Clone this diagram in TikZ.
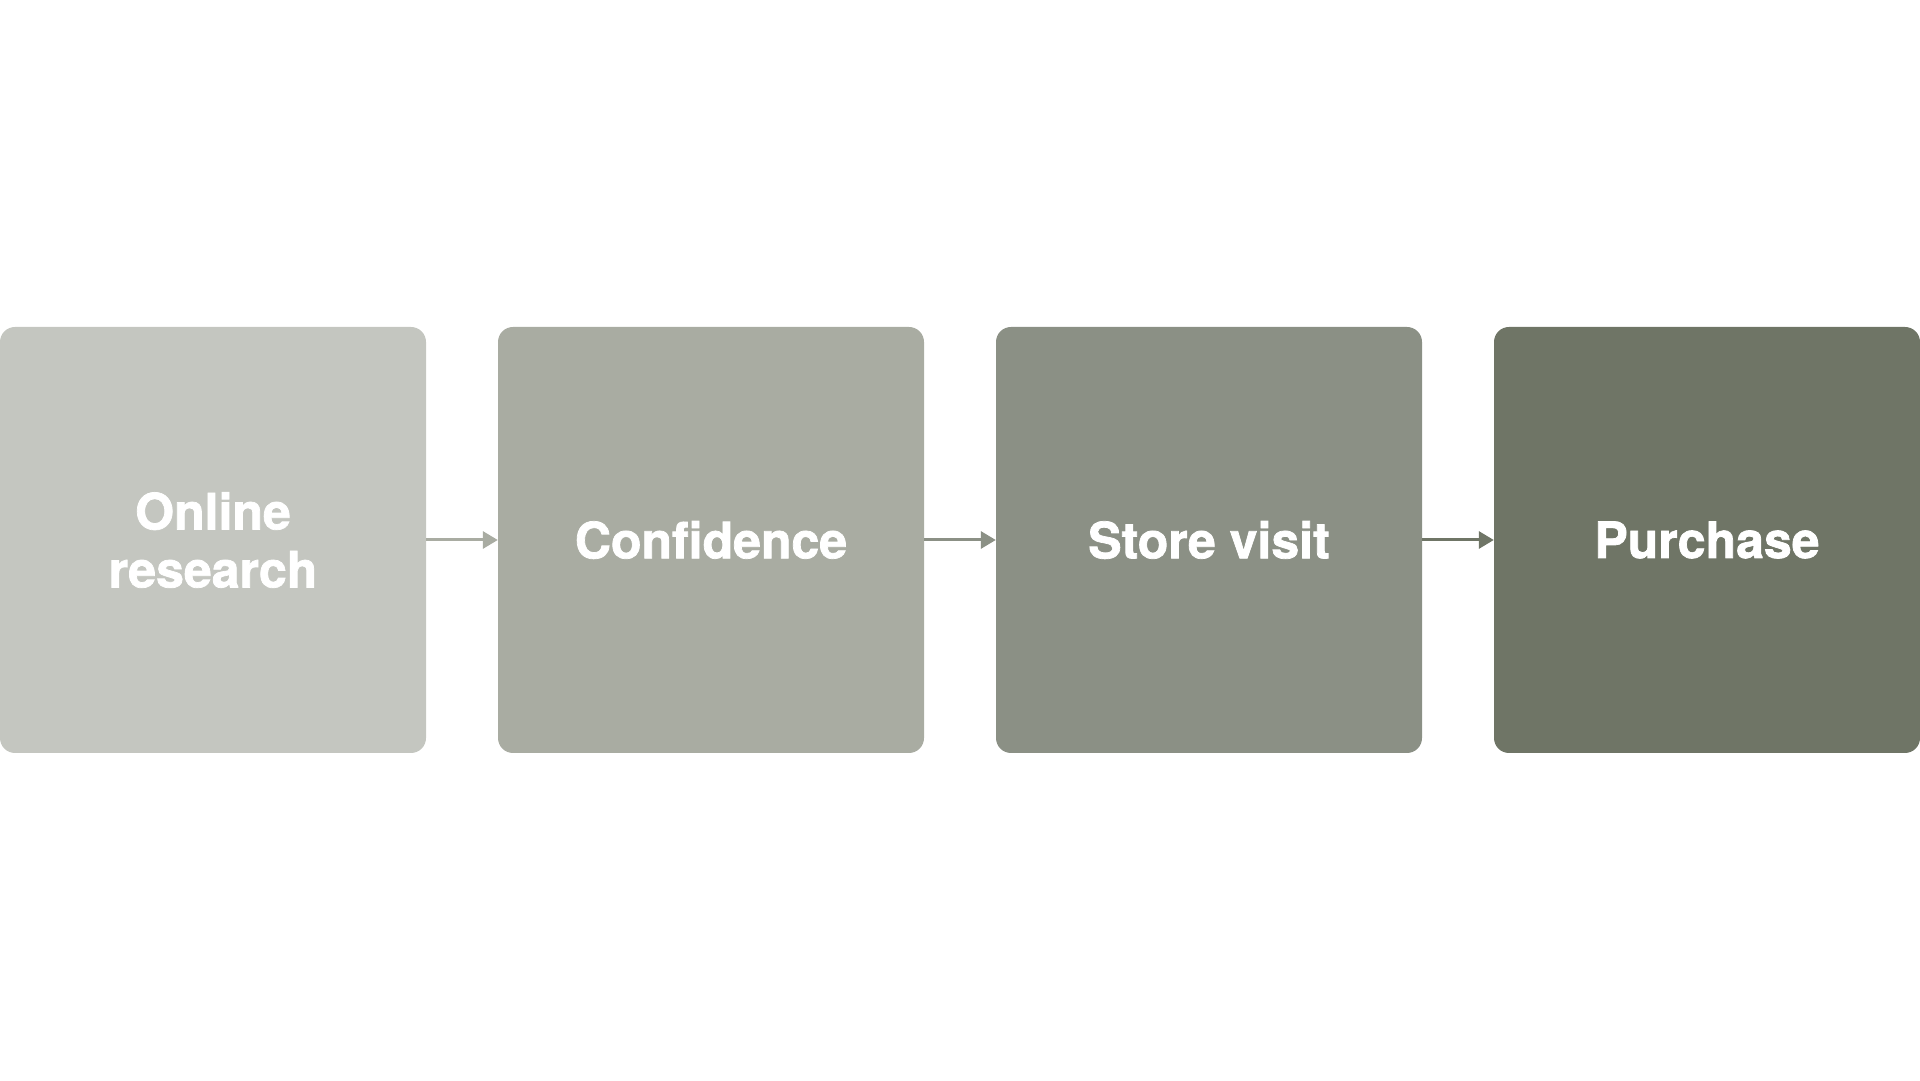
\documentclass[tikz,border=0pt]{standalone}
\usepackage{fontspec}
\setmainfont{TeX Gyre Heros}[BoldFeatures={FakeBold=1.5}]
\usetikzlibrary{arrows.meta}
\definecolor{cA}{HTML}{C4C6C0}
\definecolor{cB}{HTML}{A9ACA2}
\definecolor{cC}{HTML}{8B9085}
\definecolor{cD}{HTML}{6F7566}
\tikzset{
  stage/.style={draw=none, fill=#1, rounded corners=15pt, minimum width=426pt, minimum height=426pt,
    inner sep=0pt, text=white, align=center, font=\fontsize{50}{58}\selectfont\bfseries},
  flow/.style={draw=#1, fill=#1, line width=3pt, -{Triangle[length=15pt,width=17pt]}, shorten >=0pt}
}
\begin{document}
\begin{tikzpicture}[x=1pt,y=1pt]
\useasboundingbox (0,0) rectangle (1920,1080);
\node[stage=cA] (s1) at (213,540) {Online\\research};
\node[stage=cB] (s2) at (711,540) {Confidence};
\node[stage=cC] (s3) at (1209,540) {Store visit};
\node[stage=cD] (s4) at (1707,540) {Purchase};
\draw[flow=cB] (s1.east) -- (s2.west);
\draw[flow=cC] (s2.east) -- (s3.west);
\draw[flow=cD] (s3.east) -- (s4.west);
\end{tikzpicture}
\end{document}
